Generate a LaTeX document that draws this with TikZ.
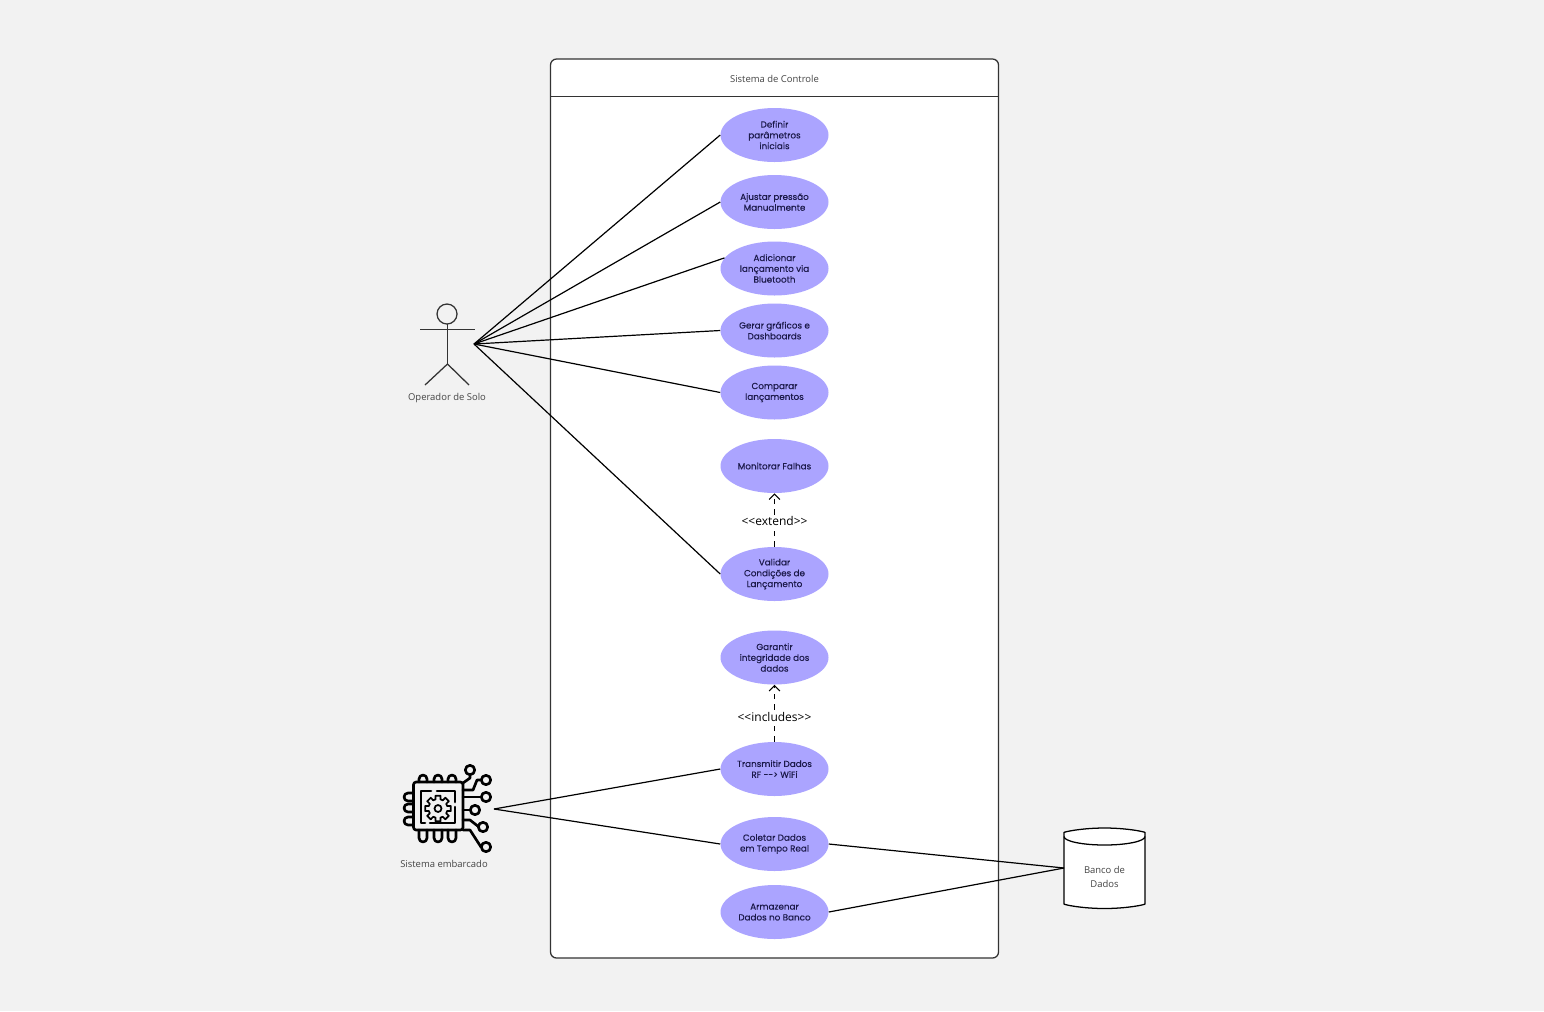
\documentclass[tikz,border=0pt]{standalone}
\usepackage{fontspec}
\setmainfont{Open Sans}
\newfontfamily\casefont[FakeBold=0.25]{Poppins}
\usetikzlibrary{shapes.geometric,arrows.meta}
\definecolor{pagebg}{HTML}{F2F2F2}
\definecolor{caseviolet}{HTML}{ABA4FF}
\definecolor{caseink}{HTML}{1C1A4A}
\definecolor{edgeink}{HTML}{333333}
\definecolor{capink}{HTML}{444444}
\tikzset{
    usecase/.style = {ellipse, fill = caseviolet, inner sep = 0pt, minimum width = 81pt, minimum height = 40.5pt,
        align = center, text = caseink, font = \casefont\fontsize{6.6}{8.1}\selectfont},
    assoc/.style = {line width = 0.9pt, black},
    depend/.style = {line width = 0.9pt, black, dash pattern = on 4pt off 4pt, -{Straight Barb[length = 4pt, width = 8pt]}},
    stereo/.style = {fill = white, inner sep = 1pt, font = \fontsize{9}{11}\selectfont},
    caption/.style = {text = capink, align = center, font = \fontsize{7.1}{10.5}\selectfont},
    outline/.style = {line width = 0.95pt, edgeink},
    chip/.style = {line width = 2pt, black, line cap = round, line join = round}
}
\begin{document}
\begin{tikzpicture}[x = 0.75pt, y = -0.75pt]
    \fill[pagebg] (0,0) rectangle (1544,1011);
    \useasboundingbox (0,0) rectangle (1544,1011);
    % system frame
    \draw[outline, fill = white, rounded corners = 4.5pt] (550.5,59) rectangle (998.5,958);
    \draw[outline] (550.5,96.5) -- (998.5,96.5);
    \node[caption] (sistema) at (774.5,78.5) {Sistema de Controle};
    % use cases
    \node[usecase] (definir) at (774.5,135) {Definir\\parâmetros\\iniciais};
    \node[usecase] (ajustar) at (774.5,202) {Ajustar pressão\\Manualmente};
    \node[usecase] (adicionar) at (774.5,268.5) {Adicionar\\lançamento via\\Bluetooth};
    \node[usecase] (gerar) at (774.5,330.5) {Gerar gráficos e\\Dashboards};
    \node[usecase] (comparar) at (774.5,392.5) {Comparar\\lançamentos};
    \node[usecase] (monitorar) at (774.5,466) {Monitorar Falhas};
    \node[usecase] (validar) at (774.5,574) {Validar\\Condições de\\Lançamento};
    \node[usecase] (garantir) at (774.5,657.5) {Garantir\\integridade dos\\dados};
    \node[usecase] (transmitir) at (774.5,769) {Transmitir Dados\\RF -{}-> WiFi};
    \node[usecase] (coletar) at (774.5,844) {Coletar Dados\\em Tempo Real};
    \node[usecase] (armazenar) at (774.5,912) {Armazenar\\Dados no Banco};
    % actor
    \draw[outline] (447,314) circle[radius = 10];
    \draw[outline] (420,329.5) -- (475,329.5);
    \draw[outline] (447.5,324) -- (447.5,364);
    \draw[outline] (425,385) -- (447.5,364) -- (469,385);
    \node[caption] (operador) at (447,398) {Operador de Solo};
    \coordinate (operadorhub) at (474,344);
    % chip icon
    \draw[chip, rounded corners = 2pt] (413.5,782) rectangle (463,830);
    \draw[chip] (431,791) -- (421,791) -- (421,823) -- (425,823);
    \draw[chip] (430,823) -- (455,823) -- (455,807);
    \draw[chip] (455,802) -- (455,791) -- (437,791);
    \begin{scope}[shift = {(438,808.5)}, line width = 1.3pt, black, line join = round]
        \draw (-11:13) \foreach \a in {0,45,...,315} {
            -- (\a+11:13) -- (\a+15:9.5) -- (\a+30:9.5) -- (\a+34:13)
        } -- cycle;
        \draw circle[radius = 3.5];
    \end{scope}
    \foreach \px in {423,438,452} {
        \draw[chip] (\px-4,782) -- (\px-4,779) arc[start angle = 180, end angle = 360, radius = 4] -- (\px+4,782);
        \draw[chip] (\px-4,830) -- (\px-4,838) arc[start angle = 180, end angle = 0, radius = 4] -- (\px+4,830);
    }
    \foreach \py in {797,808,821} {
        \draw[chip] (413,\py-4) -- (408,\py-4) arc[start angle = 270, end angle = 90, radius = 4] -- (413,\py+4);
    }
    \draw[chip] (463,783) -- (470,778) -- (470,775);
    \draw[chip] (463,790) -- (473,790) -- (477,780) -- (481,780);
    \draw[chip] (463,797) -- (481,797);
    \draw[chip] (463,810) -- (470,810);
    \draw[chip] (463,820) -- (470,820) -- (479,827);
    \draw[chip] (463,830) -- (470,830) -- (481,847);
    \draw[chip] (470,770) circle[radius = 4.7];
    \draw[chip] (486,780) circle[radius = 4.7];
    \draw[chip] (486,797) circle[radius = 4.7];
    \draw[chip] (475,810) circle[radius = 4.7];
    \draw[chip] (483,827) circle[radius = 4.7];
    \draw[chip] (486,847) circle[radius = 4.7];
    \node[caption] (embarcado) at (444,864) {Sistema embarcado};
    \coordinate (chiphub) at (494,809);
    % database
    \coordinate (banco) at (1064,868);
    \draw[outline, black, fill = white, rounded corners = 3pt] (1064,836.5) arc[start angle = 180, end angle = 360, x radius = 40.5, y radius = 8.5]
        -- (1145,900) arc[start angle = 0, end angle = 180, x radius = 40.5, y radius = 8.5] -- cycle;
    \draw[outline, black] (1064,836.5) arc[start angle = 180, end angle = 0, x radius = 40.5, y radius = 8.5];
    \node[caption] (bancotext) at (1104.5,876.5) {Banco de\\Dados};
    % associations
    \draw[assoc] (operadorhub) -- (definir.west);
    \draw[assoc] (operadorhub) -- (ajustar.west);
    \draw[assoc] (operadorhub) -- (adicionar.168);
    \draw[assoc] (operadorhub) -- (gerar.west);
    \draw[assoc] (operadorhub) -- (comparar.west);
    \draw[assoc] (operadorhub) -- (validar.west);
    \draw[assoc] (chiphub) -- (transmitir.west);
    \draw[assoc] (chiphub) -- (coletar.west);
    \draw[assoc] (coletar.east) -- (banco);
    \draw[assoc] (armazenar.east) -- (banco);
    % dependencies
    \draw[depend] (validar.north) -- (monitorar.south) node[pos = 0.48, stereo] (extend) {<{}<extend>{}>};
    \draw[depend] (transmitir.north) -- (garantir.south) node[pos = 0.43, stereo] (includes) {<{}<includes>{}>};
\end{tikzpicture}
\end{document}
